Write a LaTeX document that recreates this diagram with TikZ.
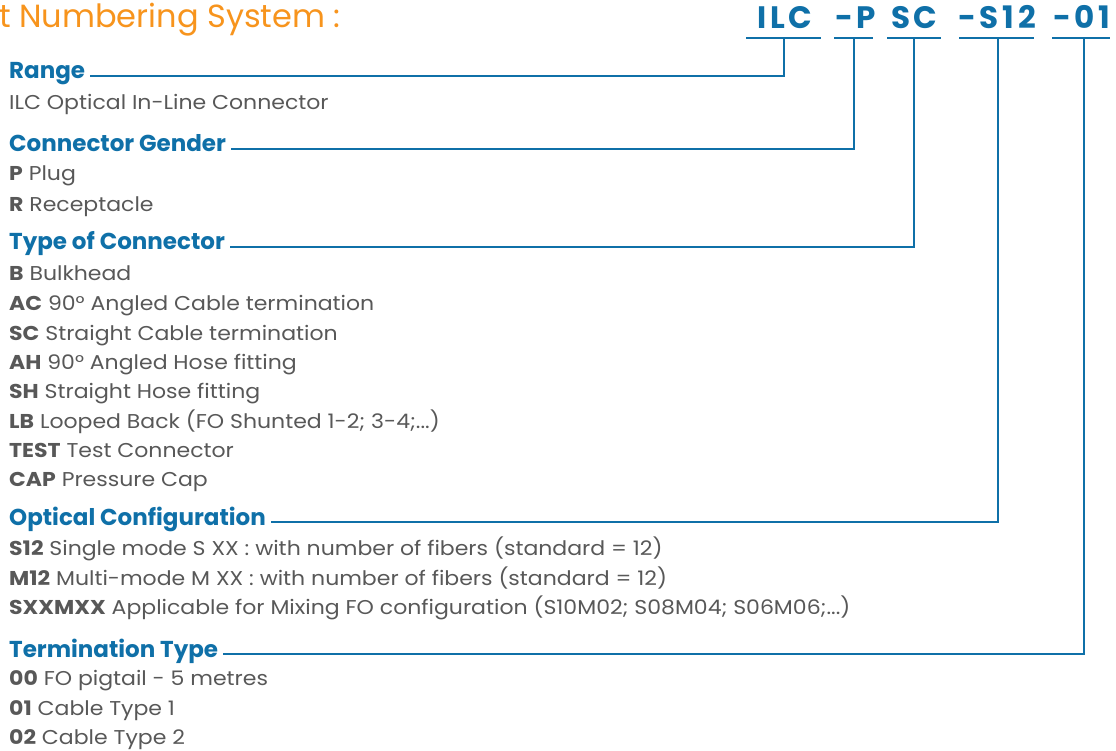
\documentclass[tikz,border=0pt]{standalone}
\usepackage{fontspec}
\setmainfont{Poppins}
\newfontfamily\codefont[LetterSpace=12]{Poppins}
\newfontfamily\bodyfont[FakeStretch=1.1]{Poppins}
\usetikzlibrary{positioning}
\definecolor{ilcblue}{RGB}{15,112,168}
\definecolor{ilcorange}{RGB}{247,148,29}
\definecolor{ilcgray}{RGB}{88,88,88}

\begin{document}
\begin{tikzpicture}[x=1pt, y=-1pt,
  titletext/.style={anchor=base west, inner sep=0pt, font=\fontsize{32}{36}\selectfont, text=ilcorange},
  codeseg/.style={anchor=base west, inner sep=0pt, font=\codefont\fontsize{31}{34}\selectfont\bfseries, text=ilcblue},
  codeline/.style={fill=ilcblue, inner sep=0pt, minimum height=2.2pt},
  heading/.style={anchor=base west, inner xsep=5pt, inner ysep=0pt, font=\fontsize{23}{26}\selectfont\bfseries, text=ilcblue},
  item/.style={anchor=base west, inner sep=0pt, font=\bodyfont\fontsize{20}{22}\selectfont, text=ilcgray},
  link/.style={ilcblue, line width=2pt},
]
\useasboundingbox (0,0) rectangle (1116,751);

% Title and part code
\node[titletext] (title) at (-1,28) {t Numbering System :};
\node[codeseg] (ilc) at (757,29) {ILC};
\node[codeseg] (gen) at (835,29) {-P};
\node[codeseg] (typ) at (891,29) {SC};
\node[codeseg] (opt) at (958,29) {-S12};
\node[codeseg] (term) at (1053,29) {-01};

% Underlines below each code segment
\node[codeline, minimum width=75pt] (ilc-u) at (783.5,38) {};
\node[codeline, minimum width=39pt] (gen-u) at (853.5,38) {};
\node[codeline, minimum width=54pt] (typ-u) at (914,38) {};
\node[codeline, minimum width=75pt] (opt-u) at (996,38) {};
\node[codeline, minimum width=58pt] (term-u) at (1081,38) {};

% Range
\node[heading] (range) at (4,79) {Range};
\node[item] (r1) at (9,110) {ILC Optical In-Line Connector};

% Connector gender
\node[heading] (gender) at (4,152) {Connector Gender};
\node[item] (g1) at (9,181) {\textbf{P} Plug};
\node[item] (g2) at (9,212) {\textbf{R} Receptacle};

% Type of connector
\node[heading] (type) at (4,250) {Type of Connector};
\node[item] (t1) at (9,281) {\textbf{B} Bulkhead};
\node[item] (t2) at (9,310) {\textbf{AC} 90° Angled Cable termination};
\node[item] (t3) at (9,340) {\textbf{SC} Straight Cable termination};
\node[item] (t4) at (9,369) {\textbf{AH} 90° Angled Hose fitting};
\node[item] (t5) at (9,398) {\textbf{SH} Straight Hose fitting};
\node[item] (t6) at (9,428) {\textbf{LB} Looped Back (FO Shunted 1-2; 3-4;...)};
\node[item] (t7) at (9,457) {\textbf{TEST} Test Connector};
\node[item] (t8) at (9,486) {\textbf{CAP} Pressure Cap};

% Optical configuration
\node[heading] (optical) at (4,525) {Optical Configuration};
\node[item] (o1) at (9,555) {\textbf{S12} Single mode S XX : with number of fibers (standard = 12)};
\node[item] (o2) at (9,585) {\textbf{M12} Multi-mode M XX : with number of fibers (standard = 12)};
\node[item] (o3) at (9,614) {\textbf{SXXMXX} Applicable for Mixing FO configuration (S10M02; S08M04; S06M06;...)};

% Termination type
\node[heading] (termtype) at (4,657) {Termination Type};
\node[item] (e1) at (9,685) {\textbf{00} FO pigtail - 5 metres};
\node[item] (e2) at (9,715) {\textbf{01} Cable Type 1};
\node[item] (e3) at (9,744) {\textbf{02} Cable Type 2};

% Leader lines from headings up to the code
\draw[link] (range.mid east) -| (ilc-u.south);
\draw[link] (gender.mid east) -| (gen-u.south);
\draw[link] (type.mid east) -| (typ-u.south);
\draw[link] (optical.mid east) -| ([xshift=2pt]opt-u.south);
\draw[link] (termtype.mid east) -| ([xshift=3pt]term-u.south);
\end{tikzpicture}
\end{document}
